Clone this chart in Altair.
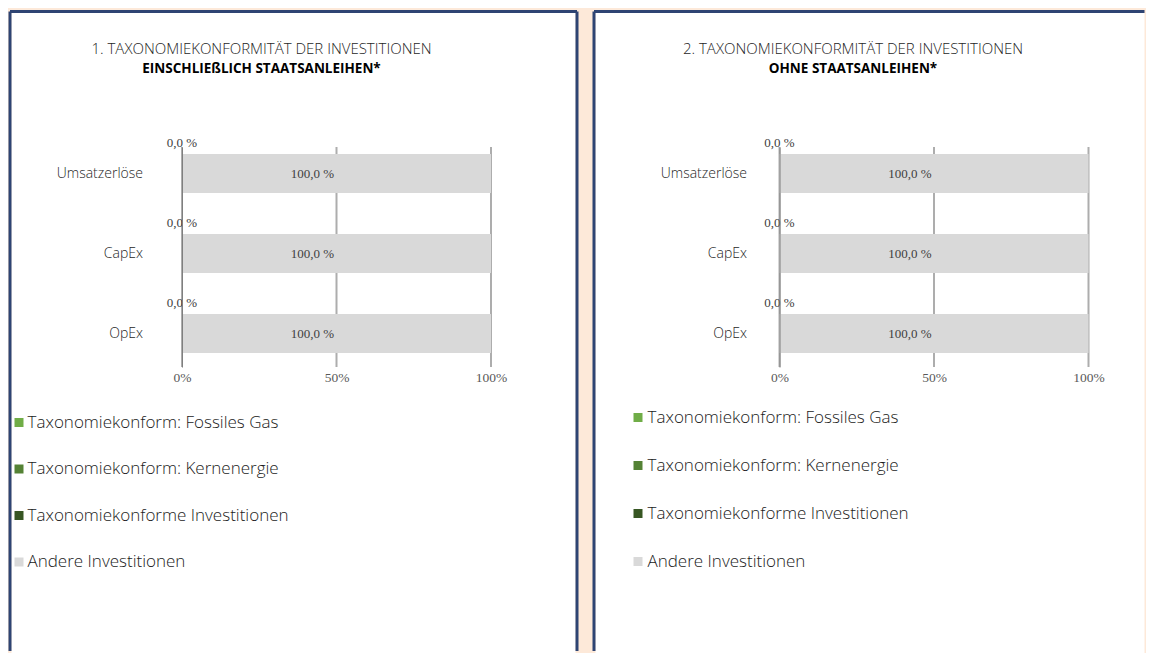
import altair as alt
import pandas as pd

# ---------------- data ----------------
categories = ["Umsatzerlöse", "CapEx", "OpEx"]
series = [
    "Taxonomiekonform: Fossiles Gas",
    "Taxonomiekonform: Kernenergie",
    "Taxonomiekonforme Investitionen",
    "Andere Investitionen",
]
colors = ["#70AD47", "#548235", "#375623", "#D9D9D9"]

# Panel 1: including sovereign bonds
p1_fossil = [0.0, 0.0, 0.0]
p1_kern = [0.0, 0.0, 0.0]
p1_konform = [0.0, 0.0, 0.0]
p1_andere = [100.0, 100.0, 100.0]

# Panel 2: excluding sovereign bonds
p2_fossil = [0.0, 0.0, 0.0]
p2_kern = [0.0, 0.0, 0.0]
p2_konform = [0.0, 0.0, 0.0]
p2_andere = [100.0, 100.0, 100.0]

title1 = "1. TAXONOMIEKONFORMITÄT DER INVESTITIONEN"
subtitle1 = "EINSCHLIEßLICH STAATSANLEIHEN*"
title2 = "2. TAXONOMIEKONFORMITÄT DER INVESTITIONEN"
subtitle2 = "OHNE STAATSANLEIHEN*"

x_ticks = [0, 50, 100]
labelled_series = ["Taxonomiekonforme Investitionen", "Andere Investitionen"]

BG = "#FDE9D9"
NAVY = "#2E4473"
SANS = "Open Sans"
SERIF = "Liberation Serif"


def make_df(fossil, kern, konform, andere):
    rows = []
    for i, cat in enumerate(categories):
        for j, (s, vals) in enumerate(zip(series, [fossil, kern, konform, andere])):
            rows.append({"category": cat, "series": s, "order": j, "value": vals[i]})
    return pd.DataFrame(rows)


W = 309
H = 220


def panel(df, title, subtitle, title_dx, label_pad, leg_x, leg_y, leg_off, row_pad,
          frame_left, frame_right, draw_right):
    one = pd.DataFrame({"k": [0]})

    sheet = alt.Chart(one).mark_rect(color="white").encode(
        x=alt.value(frame_left + 1.5), x2=alt.value(frame_right - 1.5 if draw_right else frame_right),
        y=alt.value(-134), y2=alt.value(506),
    )
    left_rule = alt.Chart(one).mark_rule(color=NAVY, strokeWidth=3).encode(
        x=alt.value(frame_left), y=alt.value(-135.5), y2=alt.value(504)
    )
    top_rule = alt.Chart(one).mark_rule(color=NAVY, strokeWidth=3).encode(
        y=alt.value(-135.5), x=alt.value(frame_left), x2=alt.value(frame_right)
    )
    layers = [sheet, left_rule, top_rule]
    if draw_right:
        right_rule = alt.Chart(one).mark_rule(color=NAVY, strokeWidth=3).encode(
            x=alt.value(frame_right), y=alt.value(-135.5), y2=alt.value(504)
        )
        layers.append(right_rule)

    xscale = alt.Scale(domain=[0, 100], nice=False)
    grid = alt.Chart(pd.DataFrame({"t": x_ticks})).mark_rule(
        color="#ADADAD", strokeWidth=2
    ).encode(x=alt.X("t:Q", scale=xscale))

    base = alt.Chart(df).transform_stack(
        stack="value", groupby=["category"], as_=["x0", "x1"],
        sort=[alt.SortField(field="order", order="ascending")],
    ).transform_calculate(
        mid="(datum.x0 + datum.x1) / 2",
        label="replace(format(datum.value, '.1f'), '.', ',') + ' %'",
    )

    yenc = alt.Y(
        "category:N", sort=categories,
        scale=alt.Scale(paddingInner=0.5125, paddingOuter=0.13125, align=1 / 3),
        axis=alt.Axis(title=None, ticks=False, labelPadding=label_pad, labelFont=SANS,
                      labelFontSize=14, labelFontWeight=300, labelColor="#262626",
                      domainColor="#7F7F7F", domainWidth=1, zindex=1),
    )

    bars = base.mark_bar().encode(
        y=yenc,
        x=alt.X("x0:Q", scale=xscale,
                axis=alt.Axis(values=x_ticks, title=None, labelExpr="datum.value + '%'",
                              domain=False, ticks=False, grid=False, labelFont=SERIF,
                              labelFontSize=13.5, labelColor="#595959", labelPadding=3,
                              labelFlush=False, zindex=1)),
        x2="x1:Q",
        color=alt.Color(
            "series:N", scale=alt.Scale(domain=series, range=colors),
            legend=alt.Legend(title=None, orient="none", legendX=leg_x, legendY=leg_y,
                              direction="vertical", symbolType="square", symbolSize=81,
                              symbolStrokeWidth=0, labelFont=SANS, labelFontSize=17,
                              labelFontWeight=300, labelColor="#1A1A1A", labelOffset=leg_off,
                              rowPadding=row_pad, padding=0, labelLimit=400, zindex=1),
        ),
    )

    big_labels = base.transform_filter(
        alt.datum.series == labelled_series[1]
    ).mark_text(font=SERIF, fontSize=13, color="#404040", dx=-24).encode(
        x=alt.X("mid:Q", scale=xscale), y=alt.Y("category:N", sort=categories), text="label:N"
    )
    zero_labels = base.transform_filter(
        alt.datum.series == labelled_series[0]
    ).mark_text(font=SERIF, fontSize=13, color="#404040", dy=-31).encode(
        x=alt.X("mid:Q", scale=xscale), y=alt.Y("category:N", sort=categories), text="label:N"
    )

    layers += [grid, bars, big_labels, zero_labels]
    return alt.layer(*layers).properties(
        width=W, height=H,
        title=alt.TitleParams(
            text=title, subtitle=subtitle, anchor="middle", dx=title_dx, offset=-65,
            font=SANS, fontSize=15, fontWeight=300, color="#262626",
            subtitleFont=SANS, subtitleFontSize=13.5, subtitleFontWeight="bold",
            subtitleColor="#000000", subtitlePadding=5, zindex=1,
        ),
    )


df1 = make_df(p1_fossil, p1_kern, p1_konform, p1_andere)
df2 = make_df(p2_fossil, p2_kern, p2_konform, p2_andere)

left = panel(df1, title1, subtitle1, -75, 39.5, -171.5, 267, 0, 28.5, -172, 395, True)
right = panel(df2, title2, subtitle2, -81, 33, -150, 262, 1, 30, -185.5, 365, False)

chart = alt.hconcat(left, right, spacing=288.5, bounds="flush").resolve_legend(
    color="independent"
).properties(
    background=BG, padding={"left": 0, "top": 2, "right": 0, "bottom": 0}
).configure_view(strokeWidth=0)

chart.save("out.html", embed_options={"renderer": "svg", "actions": False})
